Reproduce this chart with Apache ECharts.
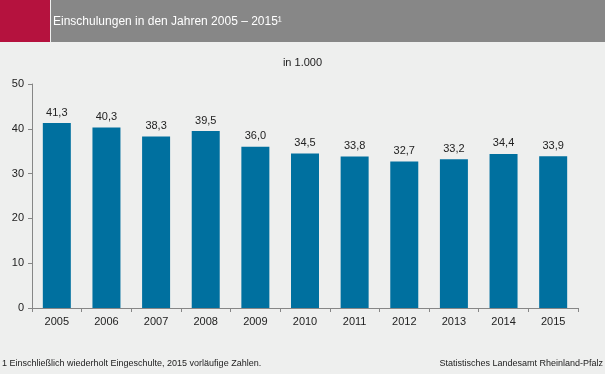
<!DOCTYPE html>
<html><head><meta charset="utf-8">
<script src="https://cdn.jsdelivr.net/npm/echarts@6/dist/echarts.min.js"></script>
<style>html,body{margin:0;padding:0;background:#eeefee;}#c{width:605px;height:374px;}</style>
</head><body><div id="c"></div>
<script>
const years = ['2005','2006','2007','2008','2009','2010','2011','2012','2013','2014','2015'];
const values = [41.3,40.3,38.3,39.5,36.0,34.5,33.8,32.7,33.2,34.4,33.9];
const yTicks = [0,10,20,30,40,50];
const titleText = 'Einschulungen in den Jahren 2005 – 2015¹';
const unitText = 'in 1.000';
const footnote = '1 Einschließlich wiederholt Eingeschulte, 2015 vorläufige Zahlen.';
const source = 'Statistisches Landesamt Rheinland-Pfalz';

const chart = echarts.init(document.getElementById('c'));
const font = 'Liberation Sans, Arial, sans-serif';
chart.setOption({
  backgroundColor: '#eeefee',
  animation: false,
  graphic: [
    {type:'rect', left:0, top:0, shape:{width:50, height:42}, style:{fill:'#b5123e'}},
    {type:'rect', left:51, top:0, shape:{width:554, height:42}, style:{fill:'#878787'}},
    {type:'text', left:53, top:16, style:{text:titleText, fill:'#ffffff', font:'12px '+font}},
    {type:'text', left:'center', top:57, style:{text:unitText, fill:'#222', font:'11px '+font}},
    {type:'text', left:2, top:359, style:{text:footnote, fill:'#222', font:'9px '+font}},
    {type:'text', right:2, top:359, style:{text:source, fill:'#222', font:'9px '+font}}
  ],
  grid: {left:32, right:27, top:84, bottom:66},
  xAxis: {
    type:'category', data: years,
    axisLine:{lineStyle:{color:'#868686', width:1}},
    axisTick:{show:true, alignWithLabel:false, length:4, lineStyle:{color:'#868686'}},
    axisLabel:{color:'#222', fontSize:11, fontFamily:font, margin:8}
  },
  yAxis: {
    type:'value', min:0, max:50, interval:10,
    axisLine:{show:true, lineStyle:{color:'#868686', width:1}},
    axisTick:{show:true, length:4, lineStyle:{color:'#868686'}},
    splitLine:{show:false},
    axisLabel:{color:'#222', fontSize:11, fontFamily:font, margin:8,
      formatter: v => yTicks.includes(v) ? String(v) : ''}
  },
  series: [{
    type:'bar', data: values, barWidth:28,
    itemStyle:{color:'#00709f'},
    label:{show:true, position:'top', distance:5, color:'#222', fontSize:11, fontFamily:font,
      formatter: p => p.value.toFixed(1).replace('.', ',')}
  }]
});
</script></body></html>
